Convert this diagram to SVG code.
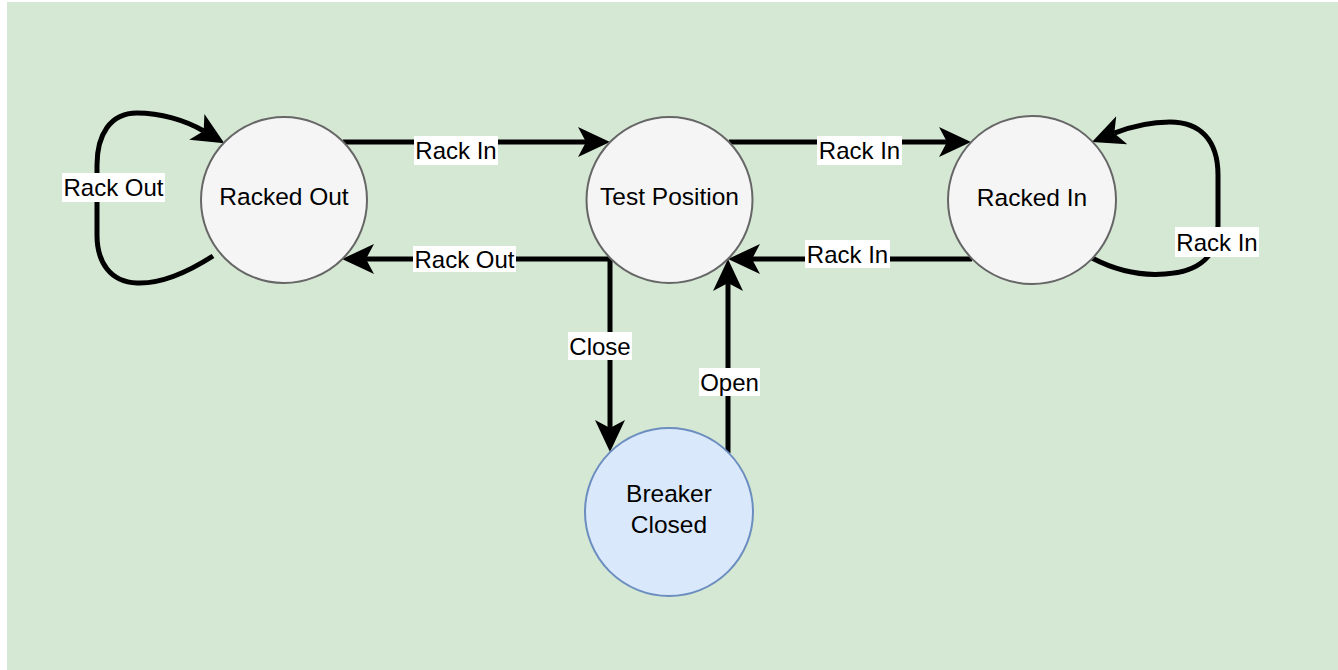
<svg xmlns="http://www.w3.org/2000/svg" width="1338" height="670" viewBox="0 0 1338 670">
  <style>
    .state { fill: #f5f5f5; stroke: #666666; stroke-width: 2; }
    .state.closed { fill: #dae8fc; stroke: #6c8ebf; }
    .name { font-family: "Liberation Sans", Arial, sans-serif; font-size: 24.5px; fill: #000; text-anchor: middle; }
    .edge { fill: none; stroke: #000; stroke-width: 5; marker-end: url(#arrow); }
    .lbl-bg { fill: #ffffff; }
    .lbl { font-family: "Liberation Sans", Arial, sans-serif; font-size: 24px; fill: #000; text-anchor: middle; }
  </style>
  <defs>
    <marker id="arrow" markerUnits="userSpaceOnUse" markerWidth="34" markerHeight="32" viewBox="0 0 34 32" refX="8" refY="16" orient="auto">
      <path d="M0,1 L32,16 L0,31 L8,16 Z" fill="#000"/>
    </marker>
  </defs>

  <!-- canvas -->
  <rect x="0" y="0" width="1338" height="670" fill="#ffffff"/>
  <rect x="7" y="2" width="1331" height="668" fill="#d5e8d4"/>

  <!-- transitions -->
  <g id="connectors">
    <!-- Racked Out self loop -->
    <path class="edge" d="M213,256 C185,274 160,284 137,283 C110,282 97,262 97,235 L97,165 C97,135 110,113 137,113 C160,113 185,120 203.7,131"/>
    <!-- Racked Out -> Test Position -->
    <path class="edge" d="M343,142 L586,142"/>
    <!-- Test Position -> Racked In -->
    <path class="edge" d="M729,142 L947,142"/>
    <!-- Racked In -> Test Position -->
    <path class="edge" d="M972,259 L752,259"/>
    <!-- Test Position -> Racked Out -->
    <path class="edge" d="M612.5,259 L366,259"/>
    <!-- Test Position -> Breaker Closed -->
    <path class="edge" d="M610,256.5 L610,428"/>
    <!-- Breaker Closed -> Test Position -->
    <path class="edge" d="M728,453 L728,283"/>
    <!-- Racked In self loop -->
    <path class="edge" d="M1092,258 C1115,270 1140,276 1165,274 C1200,272 1218,255 1218,225 L1218,175 C1218,140 1200,122 1170,122 C1150,122 1130,127 1114.3,133.2"/>

    <!-- transition labels -->
    <rect class="lbl-bg" x="62" y="173" width="103" height="29"/>
    <text class="lbl" x="113.5" y="196">Rack Out</text>

    <rect class="lbl-bg" x="414" y="136" width="84" height="29"/>
    <text class="lbl" x="456" y="159">Rack In</text>

    <rect class="lbl-bg" x="817" y="136" width="85" height="29"/>
    <text class="lbl" x="859.5" y="159">Rack In</text>

    <rect class="lbl-bg" x="805" y="240" width="85" height="28"/>
    <text class="lbl" x="847.5" y="262.5">Rack In</text>

    <rect class="lbl-bg" x="413" y="246" width="103" height="26"/>
    <text class="lbl" x="464.5" y="268">Rack Out</text>

    <rect class="lbl-bg" x="568" y="332" width="64" height="28"/>
    <text class="lbl" x="600" y="354.5">Close</text>

    <rect class="lbl-bg" x="699" y="368" width="61" height="28"/>
    <text class="lbl" x="729.5" y="390.5">Open</text>

    <rect class="lbl-bg" x="1175" y="227" width="84" height="30"/>
    <text class="lbl" x="1217" y="250.5">Rack In</text>
  </g>

  <!-- states -->
  <g id="racked-out">
    <circle class="state" cx="284" cy="200" r="83"/>
    <text class="name" x="284" y="205">Racked Out</text>
  </g>
  <g id="test-position">
    <circle class="state" cx="669.5" cy="200" r="83"/>
    <text class="name" x="669.5" y="205">Test Position</text>
  </g>
  <g id="racked-in">
    <circle class="state" cx="1032" cy="200" r="84"/>
    <text class="name" x="1032" y="206">Racked In</text>
  </g>
  <g id="breaker-closed">
    <circle class="state closed" cx="669" cy="512" r="84"/>
    <text class="name" x="669" y="502">Breaker</text>
    <text class="name" x="669" y="533">Closed</text>
  </g>
</svg>
